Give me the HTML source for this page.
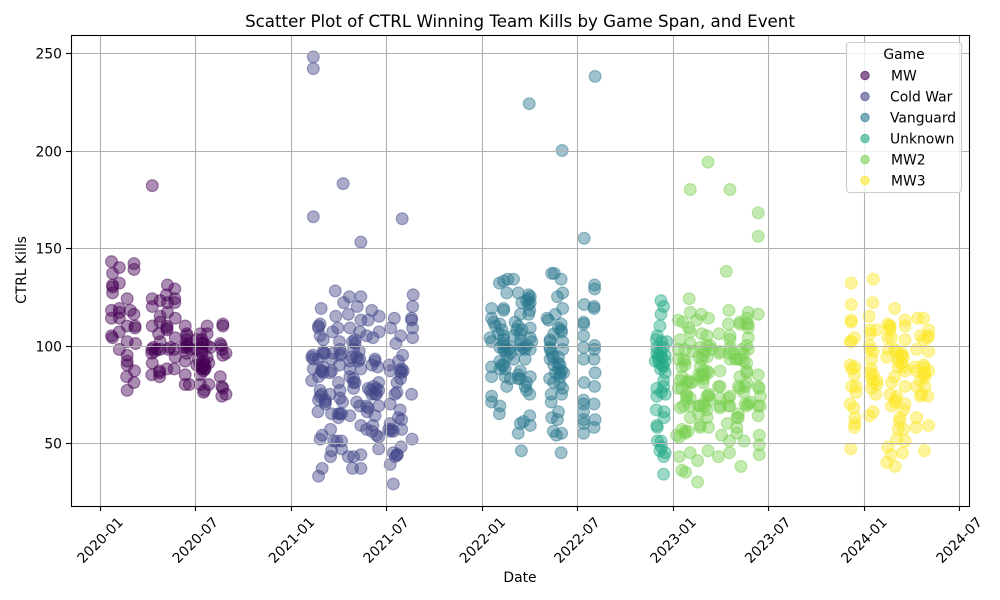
<!DOCTYPE html>
<html>
<head>
<meta charset="utf-8">
<title>Scatter Plot of CTRL Winning Team Kills</title>
<style>
html,body{margin:0;padding:0;background:#fff;}
svg{display:block;font-family:"DejaVu Sans","Liberation Sans",sans-serif;fill:#000;}
</style>
</head>
<body>
<svg id="chart" width="1000" height="600" viewBox="0 0 1000 600" xmlns="http://www.w3.org/2000/svg">
<rect x="0" y="0" width="1000" height="600" fill="#fff"/>
<g id="points"></g>
<g id="grid"></g>
<g id="ticks"></g>
<rect x="71.5" y="35.5" width="898" height="471" fill="none" stroke="#000" stroke-width="1.1"/>
<text x="520" y="27" font-size="16.67" text-anchor="middle">Scatter Plot of CTRL Winning Team Kills by Game Span, and Event</text>
<text x="520" y="582" font-size="13.89" text-anchor="middle">Date</text>
<text x="26" y="270" font-size="13.89" text-anchor="middle" transform="rotate(-90 26 270)">CTRL Kills</text>
<g id="legend"></g>
</svg>
<script>
// Days since 2020-01-01 and kills per game
const mwDays = [100,22,37,24,65,65,37,24,24,24,52,100,100,129,143,127,143,143,115,129,22,37,37,22,37,58,65,129,144,115,115,100,67,67,52,37,22,24,52,68,37,52,52,52,66,51,65,52,128,128,112,144,115,163,166,166,166,205,205,192,195,195,235,235,230,233,241,235,99,99,115,131,142,144,166,163,100,142,128,114,99,114,114,163,163,171,195,198,208,195,198,192,192,208,198,200,230,233,233,241,235,166,185,211,205,185,105,166,195,198,200,195,232,166,128,195,185,198,205,188,192,201,201,173,160,134,102,109];
const mwKills = [182,143,140,137,142,139,132,131,130,127,124,124,120,131,129,126,124,122,123,122,118,119,117,114,114,118,116,117,114,115,112,110,110,109,110,107,105,104,102,101,98,95,92,90,87,84,81,77,110,108,106,104,102,110,106,103,101,110,106,106,103,99,111,110,101,98,96,95,98,96,98,98,98,94,96,92,91,88,88,87,85,86,84,85,80,80,96,92,91,89,87,85,80,80,76,77,84,79,74,75,78,99,98,99,94,90,97,100,97,90,88,88,100,105,109,101,103,101,100,93,90,90,88,98,99,99,99,98];

const coldWarDays = [408,408,408,465,499,578,450,477,499,466,492,599,598,423,451,475,520,534,499,513,563,596,596,421,418,418,598,455,478,556,445,497,510,534,421,575,598,427,458,483,488,522,566,407,405,408,427,427,459,459,443,462,485,496,491,494,478,526,526,579,571,553,408,427,424,458,443,418,405,440,478,499,520,531,555,577,577,575,485,456,485,485,459,421,424,440,418,431,431,459,464,513,533,529,529,520,568,568,564,596,555,491,497,513,511,526,533,417,443,459,462,478,456,574,571,577,441,425,421,447,453,462,499,522,510,520,529,533,555,555,561,577,597,443,462,441,475,485,499,533,576,561,569,555,565,425,418,483,499,561,418,430,446,482,497,478,488,523,526,533,517,574,580,421,431,424,427,558,552,456,510,568,488];
const coldWarKills = [248,242,166,183,153,165,128,125,125,122,120,126,120,119,115,116,118,115,113,113,114,114,113,111,110,109,109,109,109,109,107,107,105,107,105,105,104,103,102,102,101,104,101,95,94,93,97,96,98,95,93,96,98,97,94,92,92,93,92,95,92,90,88,89,87,90,87,84,82,86,88,88,90,89,87,88,86,83,83,81,81,78,77,77,75,75,72,72,70,73,71,78,81,78,75,75,81,76,75,75,70,71,69,68,66,64,69,66,65,65,65,64,63,67,63,62,57,54,52,51,51,51,59,59,57,56,54,53,60,56,56,57,52,46,47,43,43,43,44,47,48,45,44,39,43,37,33,37,37,29,93,96,96,94,93,84,81,79,75,77,77,87,87,74,71,87,86,57,57,65,69,44,103];

const vanguardDays = [821,884,947,926,764,772,780,791,778,800,820,823,816,823,820,807,822,820,749,772,772,749,753,804,765,794,800,807,823,769,746,749,772,772,772,781,804,810,813,826,823,785,765,813,772,775,749,749,775,800,804,800,823,778,813,816,822,749,749,765,764,822,810,804,823,800,806,864,869,882,885,875,885,871,855,858,882,882,868,861,885,861,864,885,877,861,877,883,868,880,860,868,880,885,883,863,863,877,864,875,867,883,873,882,946,946,926,945,945,925,925,925,946,925,946,925,945,947,926,946,925,925,945,925,925,925,947,945,925,772,775,804,820,877,880,772,785,765,778,797,804,791,762,816,804,823,791,765,785,804,816,756,769,861,867,880,871,883,877,861,887];
const vanguardKills = [224,200,238,155,132,133,134,134,127,127,126,125,123,122,121,122,118,116,119,119,118,114,112,116,111,112,110,108,109,108,104,102,105,101,98,98,103,99,98,102,98,96,92,93,90,88,89,84,84,85,87,83,84,79,79,77,75,74,71,69,65,64,61,60,59,55,46,137,137,134,127,125,119,116,114,113,111,108,106,103,102,98,96,98,94,93,91,87,90,84,83,81,80,78,75,75,71,66,63,62,56,55,54,45,131,129,121,120,119,112,111,105,100,99,98,93,93,86,81,79,72,70,70,66,62,60,62,58,55,100,97,100,124,88,86,103,99,99,94,108,106,105,106,100,98,104,93,88,83,83,81,110,90,99,94,90,86,107,109,102,86];

const unknownDays = [1073,1078,1073,1071,1066,1064,1074,1084,1065,1078,1065,1081,1068,1062,1081,1078,1081,1078,1065,1078,1074,1081,1065,1064,1079,1079,1065,1066,1066,1073,1074,1071,1081,1078,1078,1073,1068,1074,1070,1076,1072];
const unknownKills = [123,120,116,110,105,103,102,102,99,99,96,95,93,92,92,89,86,82,78,79,76,75,74,67,66,63,59,58,51,51,48,46,45,43,34,97,95,94,91,90,88];

const mw2Days = [1129,1163,1205,1259,1259,1198,1127,1129,1150,1141,1164,1106,1115,1126,1129,1151,1161,1184,1203,1202,1240,1259,1224,1237,1240,1205,1240,1110,1129,1106,1119,1135,1161,1157,1145,1151,1184,1205,1205,1224,1240,1231,1237,1119,1157,1145,1164,1186,1259,1113,1129,1106,1154,1183,1221,1234,1261,1122,1164,1205,1263,1240,1237,1263,1186,1122,1116,1154,1167,1145,1221,1259,1161,1129,1200,1164,1148,1125,1113,1119,1218,1218,1108,1189,1261,1204,1232,1261,1261,1204,1129,1108,1143,1163,1183,1226,1113,1120,1143,1228,1218,1106,1119,1161,1154,1186,1205,1237,1224,1231,1244,1125,1110,1148,1129,1122,1161,1145,1186,1103,1218,1202,1202,1157,1116,1113,1148,1167,1170,1148,1161,1154,1132,1122,1113,1164,1148,1129,1161,1110,1186,1205,1224,1237,1215,1231,1212,1237,1205,1237,1224,1237,1240,1186,1259,1259,1221,1119,1148,1151,1154,1234];
const mw2Kills = [180,194,180,168,156,138,124,117,116,113,114,113,112,109,107,106,105,106,118,111,117,116,112,111,109,105,104,103,101,98,98,97,100,97,94,93,96,99,93,93,98,92,87,90,85,85,86,87,85,84,81,78,81,79,79,79,78,74,75,74,74,70,69,69,69,72,69,70,72,69,65,64,63,63,60,58,58,56,57,55,58,55,53,54,54,51,51,49,44,45,45,43,41,46,43,38,36,35,30,98,93,93,92,94,95,97,103,91,78,76,71,82,82,84,73,75,74,65,68,54,63,73,69,69,93,89,99,100,98,89,87,83,81,81,78,74,69,69,67,68,73,69,84,81,93,96,96,100,96,86,111,114,111,79,79,69,63,56,59,85,87,70];

const mw3Days = [1479,1437,1437,1478,1520,1471,1437,1437,1540,1564,1575,1507,1511,1540,1486,1473,1473,1443,1437,1435,1507,1514,1540,1569,1575,1585,1583,1472,1473,1479,1508,1505,1562,1585,1524,1534,1537,1476,1435,1444,1438,1443,1475,1473,1527,1537,1540,1559,1561,1577,1585,1578,1520,1476,1479,1486,1514,1438,1446,1446,1476,1484,1540,1562,1578,1511,1524,1569,1583,1435,1442,1540,1514,1521,1537,1479,1472,1444,1562,1529,1444,1443,1585,1561,1527,1537,1524,1540,1436,1507,1577,1535,1513,1505,1521,1533,1527,1520,1511,1575,1570,1575,1527,1534,1578,1572,1479,1486,1521,1530,1585,1511];
const mw3Kills = [134,132,121,122,119,115,113,112,113,114,114,111,110,110,108,108,106,104,102,102,104,104,103,105,103,108,104,100,98,97,98,94,98,97,97,96,94,93,90,89,88,85,88,86,89,89,87,89,87,89,87,84,84,83,81,80,81,79,79,76,78,75,79,79,79,75,74,74,74,70,68,70,69,71,67,66,64,63,63,61,60,58,59,58,57,57,52,51,47,48,46,45,44,40,38,95,92,98,108,85,82,90,94,91,86,75,85,82,72,63,105,110];

const gameNames = ["MW","Cold War","Vanguard","Unknown","MW2","MW3"];
const gameColors = ["#440154","#414487","#2a788e","#22a884","#7ad151","#fde725"];
const xTickLabels = ["2020-01","2020-07","2021-01","2021-07","2022-01","2022-07","2023-01","2023-07","2024-01","2024-07"];
const xTickDays = [0,182,366,547,731,912,1096,1277,1461,1643];
const yTickValues = [50,100,150,200,250];

const seriesDays = [mwDays,coldWarDays,vanguardDays,unknownDays,mw2Days,mw3Days];
const seriesKills = [mwKills,coldWarKills,vanguardKills,unknownKills,mw2Kills,mw3Kills];

const NS = "http://www.w3.org/2000/svg";
function xScale(day){ return 100 + day * 0.5228; }
function yScale(v){ return 345.5 - (v - 100) * 1.95; }
function make(tag, attrs, parent, text){
  const el = document.createElementNS(NS, tag);
  for (const k in attrs) el.setAttribute(k, attrs[k]);
  if (text !== undefined) el.textContent = text;
  parent.appendChild(el);
  return el;
}
const pointsG = document.getElementById("points");
const gridG = document.getElementById("grid");
const ticksG = document.getElementById("ticks");
const legendG = document.getElementById("legend");

seriesDays.forEach(function(days, s){
  const g = make("g", {}, pointsG);
  
  
  days.forEach(function(d, i){
    const c = make("circle", {cx: xScale(d), cy: yScale(seriesKills[s][i]), r: 5.9, fill: gameColors[s], "fill-opacity": 0.45, stroke: gameColors[s], "stroke-opacity": 0.45, "stroke-width": 1.2}, g);
    
    
  });
});

xTickDays.forEach(function(d, i){
  const x = Math.round(xScale(d)) + 0.5;
  const gl = make("line", {x1: x, x2: x, y1: 35, y2: 506, stroke: "#b0b0b0", "stroke-width": 1.1}, gridG);
  
  
  const t = make("line", {x1: x, x2: x, y1: 506, y2: 511, stroke: "#000", "stroke-width": 1.1}, ticksG);
  
  
  const lx = xScale(d), ly = 540;
  const lab = make("text", {x: lx, y: ly + 5, "font-size": 13.89, "text-anchor": "middle", transform: "rotate(-45 " + lx + " " + ly + ")"}, ticksG, xTickLabels[i]);
  
  
});

yTickValues.forEach(function(v){
  const y = Math.round(yScale(v)) + 0.5;
  const gl = make("line", {x1: 71, x2: 969, y1: y, y2: y, stroke: "#b0b0b0", "stroke-width": 1.1}, gridG);
  
  
  const t = make("line", {x1: 66, x2: 71, y1: y, y2: y, stroke: "#000", "stroke-width": 1.1}, ticksG);
  
  
  const lab = make("text", {x: 62, y: y + 5, "font-size": 13.89, "text-anchor": "end"}, ticksG, String(v));
  
  
});

const legendBox = make("rect", {x: 846.5, y: 42.5, width: 115, height: 150, rx: 3, ry: 3, fill: "#fff", "fill-opacity": 0.8, stroke: "#ccc", "stroke-width": 1.1}, legendG);


const legendTitle = make("text", {x: 904, y: 59, "font-size": 13.89, "text-anchor": "middle"}, legendG, "Game");


gameNames.forEach(function(name, i){
  const y = 75.5 + i * 21;
  const m = make("circle", {cx: 865, cy: y, r: 4.2, fill: gameColors[i], "fill-opacity": 0.6, stroke: gameColors[i], "stroke-opacity": 0.6, "stroke-width": 1.1}, legendG);
  
  
  const labelX = name.indexOf("MW") === 0 ? 891 : 890;
  const t = make("text", {x: labelX, y: y + 5, "font-size": 13.89, "text-anchor": "start"}, legendG, name);
  
  
});
</script>
</body>
</html>
